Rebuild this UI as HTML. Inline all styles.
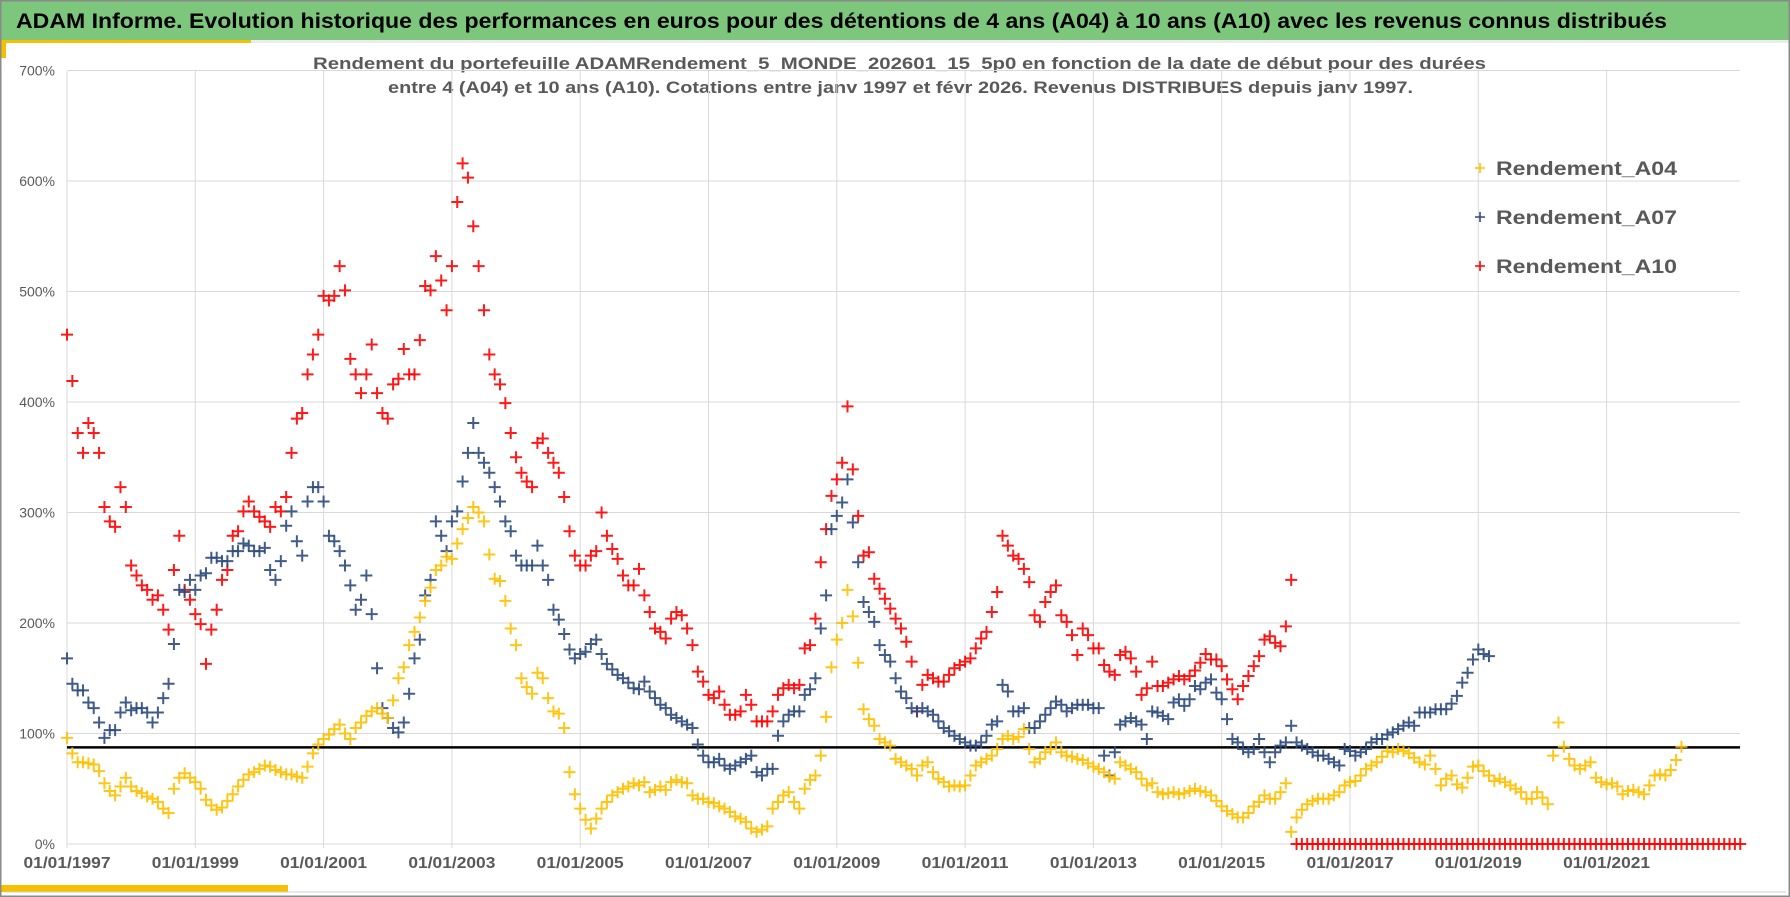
<!DOCTYPE html>
<html><head><meta charset="utf-8"><title>ADAM Informe</title>
<style>
html,body{margin:0;padding:0;background:#fff;}
svg{display:block;font-family:"Liberation Sans",sans-serif;}
</style></head>
<body>
<svg id="chart" width="1790" height="897" viewBox="0 0 1790 897" xmlns="http://www.w3.org/2000/svg">
  <rect x="0" y="0" width="1790" height="897" fill="#fff"/>
  <rect x="1" y="1" width="1788" height="39" fill="#7dc77c"/>
  <rect x="1" y="40" width="1788" height="3" fill="#ececec"/>
  <rect x="1" y="40" width="250" height="3" fill="#f5c000"/>
  <rect x="1" y="40" width="5" height="18" fill="#f5c000"/>
  <rect x="1" y="885" width="287" height="7" fill="#f5c000"/>
  <rect x="0.5" y="0.5" width="1789" height="896" fill="none" stroke="#8a8a8a" stroke-width="2"/>
  <line x1="6" y1="892" x2="1786" y2="892" stroke="#d0d0d0" stroke-width="1"/>
  <text x="16" y="28" font-size="21" font-weight="bold" fill="#000" textLength="1651" lengthAdjust="spacingAndGlyphs">ADAM Informe. Evolution historique des performances en euros pour des détentions de 4 ans (A04) à 10 ans (A10) avec les revenus connus distribués</text>
  <text x="313" y="69" font-size="17" font-weight="bold" fill="#595959" textLength="1173" lengthAdjust="spacingAndGlyphs">Rendement du portefeuille ADAMRendement_5_MONDE_202601_15_5p0 en fonction de la date de début pour des durées</text>
  <text x="388" y="93" font-size="17" font-weight="bold" fill="#595959" textLength="1025" lengthAdjust="spacingAndGlyphs">entre 4 (A04) et 10 ans (A10). Cotations entre janv 1997 et févr 2026. Revenus DISTRIBUES depuis janv 1997.</text>
  <g id="grid"></g>
  <g id="axes"></g>
  <g id="series"></g>
  <g id="legend"></g>
</svg>
<script>
const yTicks = [0,100,200,300,400,500,600,700];
const yTickLabels = ["0%","100%","200%","300%","400%","500%","600%","700%"];
const xTickYears = [1997,1999,2001,2003,2005,2007,2009,2011,2013,2015,2017,2019,2021];
const xTickLabels = ["01/01/1997","01/01/1999","01/01/2001","01/01/2003","01/01/2005","01/01/2007","01/01/2009","01/01/2011","01/01/2013","01/01/2015","01/01/2017","01/01/2019","01/01/2021"];
const startYear = 1997;
const refLineValue = 87.5;
const seriesNames = ["Rendement_A04","Rendement_A07","Rendement_A10"];
const a04 = [
96,82,74,74,73,72,66,55,48,44,52,60,
52,48,46,43,41,38,32,28,50,60,64,60,
56,50,40,35,31,33,39,45,52,58,63,65,
68,71,70,67,65,63,63,61,60,70,82,90,
95,99,104,108,100,95,105,110,116,120,123,118,
114,130,150,160,180,192,205,220,232,248,252,260,
258,272,285,295,305,300,292,262,240,238,220,195,
180,150,142,136,155,150,132,120,118,105,65,45,
32,22,14,23,32,38,44,47,50,52,55,53,
56,47,49,52,49,56,58,56,55,44,41,41,
38,37,34,32,29,25,23,20,14,11,13,16,
32,38,44,47,38,32,50,58,62,80,115,160,
185,200,230,206,164,122,113,107,95,92,89,77,
74,71,68,62,71,74,65,59,56,52,53,52,
53,62,71,74,77,80,86,95,98,95,97,104,
86,74,77,83,86,92,83,80,79,77,76,73,
70,68,65,61,59,74,71,68,65,59,53,55,
47,45,46,47,45,46,48,50,48,47,44,39,
34,30,27,24,24,28,34,38,44,41,41,47,
55,11,24,31,36,39,41,41,41,44,47,53,
56,57,62,68,71,74,79,84,83,86,84,82,
78,74,72,80,68,53,59,62,54,51,60,70,
71,66,62,57,59,56,53,50,47,41,41,47,
42,36,80,110,88,77,71,68,71,74,60,56,
54,55,52,45,48,49,47,45,53,62,63,62,
67,76,88];
const a07 = [
168,145,139,139,128,123,110,96,103,103,119,128,
121,123,123,119,110,119,132,145,181,230,228,239,
230,243,245,259,259,256,256,265,265,272,270,265,
265,268,248,239,256,288,301,274,261,310,323,323,
310,279,274,265,252,234,212,221,243,208,159,123,
114,105,101,110,136,168,185,225,239,292,279,265,
292,301,328,354,381,354,345,336,323,310,292,283,
261,252,252,252,270,252,239,212,203,190,176,168,
172,174,181,185,172,163,158,153,150,146,141,140,
147,138,132,126,123,117,114,111,108,105,90,80,
74,74,77,71,68,71,74,77,80,65,62,68,
68,98,111,117,120,120,135,140,150,195,225,285,
297,309,330,291,255,219,210,201,180,171,165,150,
138,132,123,120,123,120,117,111,105,102,98,95,
92,89,89,92,98,108,111,144,138,120,120,123,
105,105,111,117,123,129,126,120,123,126,126,126,
123,123,80,62,83,108,111,114,111,108,95,120,
119,116,113,128,131,125,131,143,140,146,149,137,
131,113,95,92,86,83,86,95,83,74,83,89,
92,107,92,89,86,83,80,80,77,74,71,86,
84,80,83,86,92,95,95,99,101,104,107,110,
107,119,119,119,122,122,122,127,134,146,155,167,
176,172,170];
const a10 = [
461,419,372,354,381,372,354,305,292,287,323,305,
252,243,234,230,221,225,212,194,248,279,230,221,
208,199,163,194,212,239,248,279,283,301,310,301,
296,292,287,305,301,314,354,385,390,425,443,461,
496,492,496,523,501,439,425,408,425,452,408,390,
385,416,421,448,425,425,456,505,501,532,510,483,
523,581,616,603,559,523,483,443,425,416,399,372,
350,336,328,323,363,367,354,345,336,314,283,261,
252,252,261,265,300,279,267,258,243,234,234,249,
225,210,195,192,186,204,210,207,195,180,156,147,
135,132,138,126,117,117,120,135,126,111,111,111,
120,135,141,144,141,144,177,180,204,255,285,315,
330,345,396,339,297,261,264,240,231,222,213,204,
195,183,165,120,144,153,150,147,147,153,159,162,
165,168,177,186,192,210,228,279,270,261,258,249,
237,207,201,219,228,234,207,201,189,171,195,189,
177,177,162,156,153,171,174,168,156,135,141,165,
143,143,146,149,152,149,152,157,164,172,167,167,
161,149,140,131,143,152,161,170,185,188,182,179,
197,239,0,0,0,0,0,0,0,0,0,0,
0,0,0,0,0,0,0,0,0,0,0,0,
0,0,0,0,0,0,0,0,0,0,0,0,
0,0,0,0,0,0,0,0,0,0,0,0,
0,0,0,0,0,0,0,0,0,0,0,0,
0,0,0,0,0,0,0,0,0,0,0,0,
0,0,0,0,0,0,0,0,0,0,0,0,
0,0];

const NS = "http://www.w3.org/2000/svg";
const PL = 67, PR = 1740, PT = 71, PB = 844;
const PX_PER_YEAR = 64.15, PX_PER_PCT = 1.105;
function xOf(year){ return PL + (year - startYear) * PX_PER_YEAR; }
function yOf(v){ return PB - v * PX_PER_PCT; }
function mk(tag, attrs, parent){
  const e = document.createElementNS(NS, tag);
  for (const k in attrs) e.setAttribute(k, attrs[k]);
  parent.appendChild(e);
  return e;
}
const grid = document.getElementById('grid');
const axes = document.getElementById('axes');
const series = document.getElementById('series');
const legend = document.getElementById('legend');

yTicks.forEach((v, i) => {
  const ln = mk('line', {x1: PL, x2: PR, y1: yOf(v), y2: yOf(v), stroke: '#d9d9d9', 'stroke-width': 1}, grid);
  
  
  const t = mk('text', {x: 55, y: yOf(v) + 5, 'font-size': 14, fill: '#595959', 'text-anchor': 'end'}, axes);
  t.textContent = yTickLabels[i];
  
  
});
xTickYears.forEach((yr, i) => {
  const x = xOf(yr);
  const ln = mk('line', {x1: x, x2: x, y1: PT, y2: PB + 4, stroke: '#d9d9d9', 'stroke-width': 1}, grid);
  
  
  const t = mk('text', {x: x, y: 868, 'font-size': 16, 'font-weight': 'bold', fill: '#595959', 'text-anchor': 'middle', textLength: 87, lengthAdjust: 'spacingAndGlyphs'}, axes);
  t.textContent = xTickLabels[i];
  
  
});

function plotSeries(arr, color, name){
  const g = mk('g', {}, series);
  
  
  arr.forEach((v, i) => {
    const x = xOf(startYear + i / 12), y = yOf(v);
    const p = mk('path', {d: `M${x-6},${y}H${x+6}M${x},${y-6}V${y+6}`, stroke: color, 'stroke-width': 2, fill: 'none', opacity: 0.9}, g);
    
    
  });
}
plotSeries(a10, '#ff0000', 'series-a10');
plotSeries(a07, '#2e4a7d', 'series-a07');
plotSeries(a04, '#ffc000', 'series-a04');

const ref = mk('line', {x1: PL, x2: PR, y1: yOf(refLineValue), y2: yOf(refLineValue), stroke: '#000', 'stroke-width': 2.5}, axes);



const legendColors = ['#ffc000', '#2e4a7d', '#ff0000'];
const legendY = [168, 217, 266];
seriesNames.forEach((n, i) => {
  const y = legendY[i];
  const m = mk('path', {d: `M1475,${y}H1485M1480,${y-5}V${y+5}`, stroke: legendColors[i], 'stroke-width': 1.6}, legend);
  
  
  const t = mk('text', {x: 1496, y: y + 7, 'font-size': 19, 'font-weight': 'bold', fill: '#595959', textLength: 181, lengthAdjust: 'spacingAndGlyphs'}, legend);
  t.textContent = n;
  
  
});
</script>
</body></html>
